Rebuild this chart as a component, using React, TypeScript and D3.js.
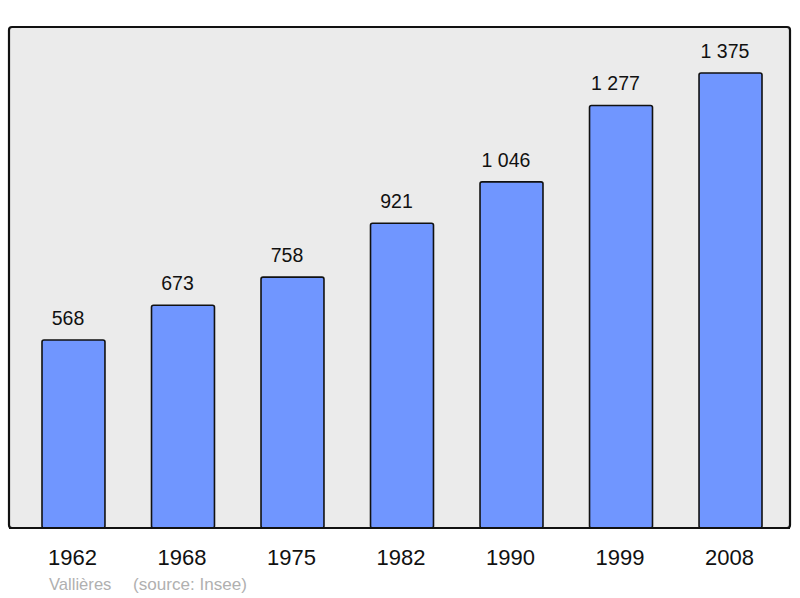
import React from "react";
import * as d3 from "d3";

const years = ["1962", "1968", "1975", "1982", "1990", "1999", "2008"];
const population = [568, 673, 758, 921, 1046, 1277, 1375];
const valueLabels = ["568", "673", "758", "921", "1 046", "1 277", "1 375"];
const commune = "Vallières";
const source = "(source: Insee)";

export default function App() {
  const W = 800;
  const H = 598;
  const frame = { x0: 9, y0: 27, x1: 790, y1: 528 };
  const x = d3.scaleBand<string>().domain(years).range([42, 762]).paddingInner(0.425).paddingOuter(0);
  const y = d3.scaleLinear().domain([0, d3.max(population) as number]).range([frame.y1, 73]);
  const font = "'Liberation Sans', Arial, sans-serif";
  return (
    <svg width={W} height={H} style={{ position: "absolute", left: 0, top: 0 }} fontFamily={font}>
      <rect x={0} y={0} width={W} height={H} fill="#ffffff" />
      <rect
        x={frame.x0}
        y={frame.y0}
        width={frame.x1 - frame.x0}
        height={frame.y1 - frame.y0}
        rx={3}
        fill="#ebebeb"
        stroke="#111"
        strokeWidth={2.2}
      />
      {years.map((yr, i) => {
        const bx = x(yr) as number;
        const bw = x.bandwidth();
        const top = y(population[i]);
        const cx = bx + bw / 2;
        return (
          <g key={yr}>
            <rect
              x={bx}
              y={top}
              width={bw}
              height={y(0) - top}
              rx={2}
              fill="#7096ff"
              stroke="#111"
              strokeWidth={1.6}
            />
            <text x={cx - 5.5} y={top - 15} textAnchor="middle" fontSize={19.5} fill="#111">
              {valueLabels[i]}
            </text>
            <text x={cx - 1} y={565} textAnchor="middle" fontSize={22} fill="#111">
              {yr}
            </text>
          </g>
        );
      })}
      <line x1={frame.x0} x2={frame.x1} y1={frame.y1} y2={frame.y1} stroke="#111" strokeWidth={2.2} />
      <text x={49} y={590} fontSize={16.6} fill="#b0b0b0">
        {commune}
      </text>
      <text x={133} y={590} fontSize={17.1} fill="#b0b0b0">
        {source}
      </text>
    </svg>
  );
}
